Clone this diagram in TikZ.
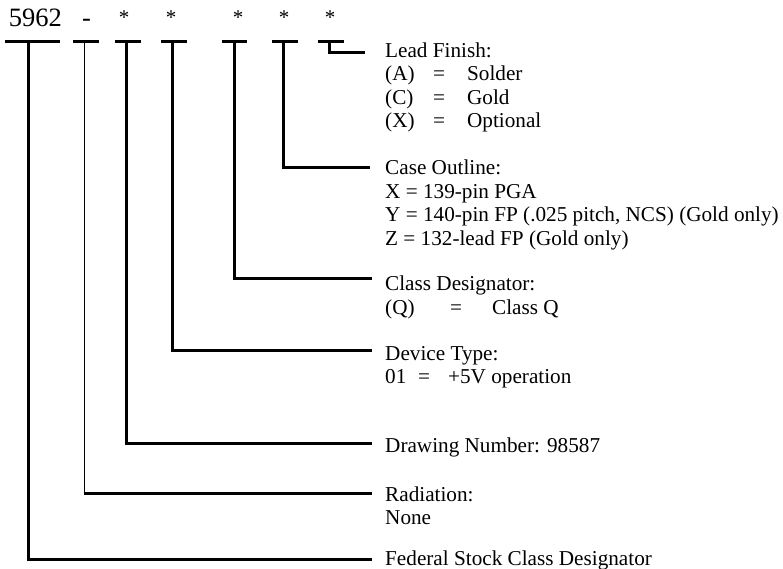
\documentclass[tikz,border=0pt]{standalone}
\usepackage{fontspec}
\setmainfont{Liberation Serif}
\tikzset{
  toptxt/.style={anchor=base, inner sep=0pt, font=\fontsize{26.5}{30}\selectfont},
  startxt/.style={anchor=base, inner sep=0pt, font=\fontsize{21}{24}\selectfont},
  lbl/.style={anchor=base west, inner sep=0pt, font=\fontsize{21.2}{23.4}\selectfont},
  bar/.style={line width=3.2pt},
  leader/.style={line width=3pt, line join=miter},
  thinleader/.style={line width=1.7pt, line join=miter}
}
\newcommand{\blk}[1]{\begin{tabular}[t]{@{}l@{}}#1\end{tabular}}
\begin{document}
\begin{tikzpicture}[x=1pt,y=-1pt]
\useasboundingbox (0,0) rectangle (783,569);
% top code
\node[toptxt] (t5962) at (35.5,26.7) {5962};
\node[toptxt] (tdash) at (86.5,26.7) {-};
\node[startxt] (s1) at (124,25) {*};
\node[startxt] (s2) at (171,25) {*};
\node[startxt] (s3) at (238,25) {*};
\node[startxt] (s4) at (284,25) {*};
\node[startxt] (s5) at (330,25) {*};
% bars
\draw[bar] (5,41.5) -- (60,41.5);
\draw[bar] (73,41.5) -- (99,41.5);
\draw[bar] (115,41.5) -- (141,41.5);
\draw[bar] (161,41.5) -- (187,41.5);
\draw[bar] (222,41.5) -- (247,41.5);
\draw[bar] (272,41.5) -- (298,41.5);
\draw[bar] (318,41.5) -- (344,41.5);
\coordinate (b1) at (28,41.5);
\coordinate (b2) at (84.5,41.5);
\coordinate (b3) at (126,41.5);
\coordinate (b4) at (172,41.5);
\coordinate (b5) at (234,41.5);
\coordinate (b6) at (283,41.5);
\coordinate (b7) at (329,41.5);
% labels
\node[lbl] (lead) at (385,57.5) {\blk{Lead Finish:\\
  \makebox[48pt][l]{(A)}\makebox[34pt][l]{=}Solder\\
  \makebox[48pt][l]{(C)}\makebox[34pt][l]{=}Gold\\
  \makebox[48pt][l]{(X)}\makebox[34pt][l]{=}Optional}};
\node[lbl] (case) at (385,175) {\blk{Case Outline:\\
  X = 139-pin PGA\\
  Y = 140-pin FP (.025 pitch, NCS) (Gold only)\\
  Z = 132-lead FP (Gold only)}};
\node[lbl] (class) at (385,290.7) {\blk{Class Designator:\\
  \makebox[65pt][l]{(Q)}\makebox[42pt][l]{=}Class Q}};
\node[lbl] (dev) at (385,360) {\blk{Device Type:\\
  \makebox[33pt][l]{01}\makebox[30pt][l]{=}+5V operation}};
\node[lbl] (draw) at (385,452) {Drawing Number: 98587};
\node[lbl] (rad) at (385,501.5) {\blk{Radiation:\\ None}};
\node[lbl] (fed) at (385,565) {Federal Stock Class Designator};
% leader ends
\coordinate (e1) at (372,559);
\coordinate (e2) at (372,493);
\coordinate (e3) at (372,443);
\coordinate (e4) at (372,350);
\coordinate (e5) at (372,278);
\coordinate (e6) at (370,168);
\coordinate (e7) at (365,53);
% leaders
\draw[leader] (b1) |- (e1);
\draw[thinleader] (b2) -- (b2 |- e2);
\draw[leader] ([xshift=-0.85pt]b2 |- e2) -- (e2);
\draw[leader] (b3) |- (e3);
\draw[leader] (b4) |- (e4);
\draw[leader] (b5) |- (e5);
\draw[leader] (b6) |- (e6);
\draw[leader] (b7) |- (e7);
\end{tikzpicture}
\end{document}
